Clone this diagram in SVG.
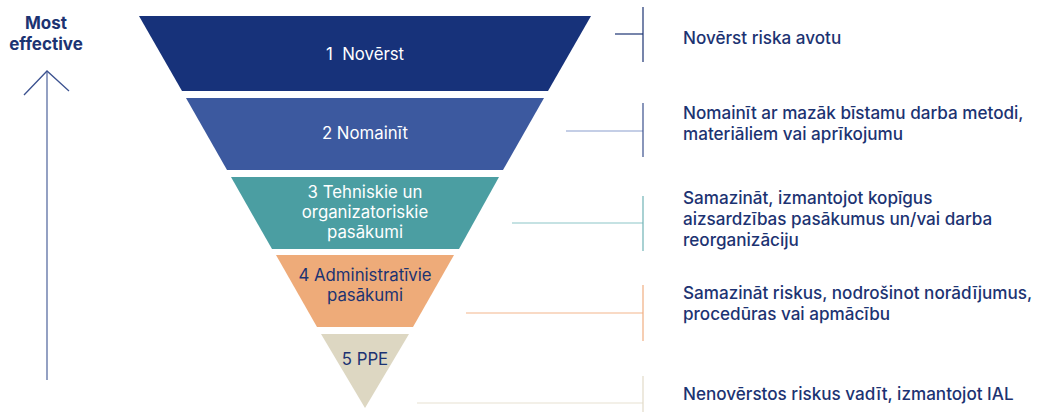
<svg xmlns="http://www.w3.org/2000/svg" width="1038" height="412" viewBox="0 0 1038 412">
<style>
.lbl{font-family:Inter,"Liberation Sans",sans-serif;font-size:16.8px;text-anchor:middle}
.wt{fill:#ffffff}
.dk{fill:#1c3372}
.desc{font-family:Inter,"Liberation Sans",sans-serif;font-size:17.1px;font-weight:500;fill:#1c3372}
.ax{font-family:Inter,"Liberation Sans",sans-serif;font-size:17px;font-weight:700;fill:#1c3372;text-anchor:middle}
.ln{fill:none;stroke-width:1.2}
</style>
<rect width="1038" height="412" fill="#ffffff"/>
<g id="axis">
<line x1="47" y1="71" x2="47" y2="380" stroke="#5a6ea3" stroke-width="1.3"/>
<polyline points="24,95 47,71 69,91" fill="none" stroke="#3c5290" stroke-width="1.3"/>
<text class="ax" x="46" y="29">Most</text>
<text class="ax" x="46" y="50">effective</text>
</g>
<g id="level1">
<polygon points="139,16 591,16 548,91 182,91" fill="#17327a"/>
<text class="lbl wt" x="365" y="60" xml:space="preserve">1  Novērst</text>
</g>
<g id="level2">
<polygon points="186,98 544,98 503,170 227,170" fill="#3c599f"/>
<text class="lbl wt" x="365" y="139">2 Nomainīt</text>
</g>
<g id="level3">
<polygon points="231,177 499,177 459,249 272,249" fill="#4b9ea2"/>
<text class="lbl wt" x="365" y="198">3 Tehniskie un</text>
<text class="lbl wt" x="365" y="218">organizatoriskie</text>
<text class="lbl wt" x="365" y="238">pasākumi</text>
</g>
<g id="level4">
<polygon points="276,255 454,255 413,327 317,327" fill="#eeab79"/>
<text class="lbl dk" x="365" y="281">4 Administratīvie</text>
<text class="lbl dk" x="365" y="301">pasākumi</text>
</g>
<g id="level5">
<polygon points="321,334 409,334 365,408" fill="#ddd7c2"/>
<text class="lbl dk" x="365" y="365">5 PPE</text>
</g>
<g id="connectors">
<line class="ln" x1="615" y1="34" x2="643" y2="34" stroke="#1c3372"/>
<line class="ln" x1="643" y1="7" x2="643" y2="62" stroke="#1c3372"/>
<line class="ln" x1="566" y1="131" x2="643" y2="131" stroke="#8a9dce"/>
<line class="ln" x1="643" y1="103" x2="643" y2="157" stroke="#3a4f8c"/>
<line class="ln" x1="512" y1="223" x2="643" y2="223" stroke="#8cc6c8"/>
<line class="ln" x1="643" y1="196" x2="643" y2="251" stroke="#6fb3b5"/>
<line class="ln" x1="466" y1="313" x2="643" y2="313" stroke="#f3b68b"/>
<line class="ln" x1="643" y1="285" x2="643" y2="341" stroke="#f0ae80"/>
<line class="ln" x1="417" y1="403" x2="643" y2="403" stroke="#e8e1d2"/>
<line class="ln" x1="643" y1="376" x2="643" y2="412" stroke="#e2dac8"/>
</g>
<g id="desc1"><text class="desc" x="683" y="44">Novērst riska avotu</text></g>
<g id="desc2">
<text class="desc" x="683" y="119">Nomainīt ar mazāk bīstamu darba metodi,</text>
<text class="desc" x="683" y="140">materiāliem vai aprīkojumu</text>
</g>
<g id="desc3">
<text class="desc" x="683" y="204">Samazināt, izmantojot kopīgus</text>
<text class="desc" x="683" y="225">aizsardzības pasākumus un/vai darba</text>
<text class="desc" x="683" y="246">reorganizāciju</text>
</g>
<g id="desc4">
<text class="desc" x="683" y="299">Samazināt riskus, nodrošinot norādījumus,</text>
<text class="desc" x="683" y="320">procedūras vai apmācību</text>
</g>
<g id="desc5"><text class="desc" x="683" y="400">Nenovērstos riskus vadīt, izmantojot IAL</text></g>
</svg>
